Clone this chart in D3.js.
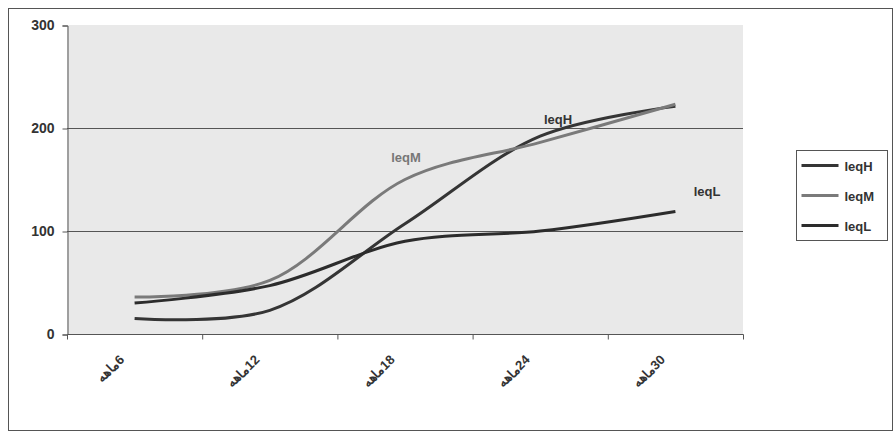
<!DOCTYPE html>
<html>
<head>
<meta charset="utf-8">
<script src="https://cdn.jsdelivr.net/npm/d3@7"></script>
<style>
  body { margin: 0; background: #fff; }
  text { font-family: "Liberation Sans", Arial, sans-serif; font-weight: bold; }
</style>
</head>
<body>
<svg width="894" height="438"></svg>
<script>
  const categories = ["6", "12", "18", "24", "30"];
  const catWord = "ماهه";
  const yTicks = [0, 100, 200, 300];
  const seriesNames = ["leqH", "leqM", "leqL"];
  const leqH = [15, 23, 107, 192, 221];
  const leqM = [36, 52, 150, 186, 223];
  const leqL = [30, 47, 90, 100, 119];
  const seriesValues = [leqH, leqM, leqL];
  const seriesColors = ["#353535", "#7a7a7a", "#2c2c2c"];

  const svg = d3.select("svg");

  // outer frame
  svg.append("rect").attr("x", 8.5).attr("y", 8.5).attr("width", 884).attr("height", 422)
    .attr("fill", "none").attr("stroke", "#555").attr("stroke-width", 1);

  const x = d3.scaleBand().domain(categories).range([67, 743]).paddingInner(0).paddingOuter(0);
  const y = d3.scaleLinear().domain([0, 300]).range([334, 25]);

  // plot background
  svg.append("rect").attr("x", 67).attr("y", y(300)).attr("width", 676).attr("height", y(0) - y(300))
    .attr("fill", "#e9e9e9");

  // gridlines
  svg.selectAll(".grid").data(yTicks.filter(d => d > 0 && d < 300)).enter().append("line")
    .attr("x1", 67).attr("x2", 743).attr("y1", d => y(d) + 0.5).attr("y2", d => y(d) + 0.5)
    .attr("stroke", "#555").attr("stroke-width", 1.2);

  // y axis
  const yAxis = svg.append("g").attr("transform", "translate(67.5,0.5)")
    .call(d3.axisLeft(y).tickValues(yTicks).tickSize(5).tickPadding(8));
  yAxis.select(".domain").attr("stroke", "#555");
  yAxis.selectAll(".tick line").attr("stroke", "#555");
  yAxis.selectAll("text").attr("font-size", 14).attr("fill", "#333");

  // x axis with ticks on category boundaries
  const xg = svg.append("g").attr("transform", `translate(0.5,${y(0) + 0.5})`);
  xg.append("line").attr("x1", 67).attr("x2", 743).attr("stroke", "#555").attr("stroke-width", 1.2);
  const bounds = categories.map(c => x(c)).concat([x(categories[categories.length - 1]) + x.bandwidth()]);
  xg.selectAll(".xt").data(bounds).enter().append("line")
    .attr("x1", d => d).attr("x2", d => d).attr("y1", 0).attr("y2", 5).attr("stroke", "#555");
  xg.selectAll(".xl").data(categories).enter().append("text")
    .attr("transform", d => `translate(${x(d) + x.bandwidth() / 2 - 10},${26}) rotate(-45)`)
    .attr("text-anchor", "end").attr("font-size", 13).attr("fill", "#333")
    .text(d => catWord + "\u200E" + d);

  // lines
  const cx = (i) => x(categories[i]) + x.bandwidth() / 2;
  const line = d3.line().x((d, i) => cx(i)).y(d => y(d)).curve(d3.curveCatmullRom.alpha(0.5));
  svg.selectAll(".series").data(seriesValues).enter().append("path")
    .attr("d", d => line(d)).attr("fill", "none")
    .attr("stroke", (d, i) => seriesColors[i]).attr("stroke-width", 3);

  // series labels
  const labelPos = [[558, 124], [406, 162], [707, 196]];
  svg.selectAll(".slab").data(seriesNames).enter().append("text")
    .attr("x", (d, i) => labelPos[i][0]).attr("y", (d, i) => labelPos[i][1])
    .attr("text-anchor", "middle").attr("font-size", 13)
    .attr("fill", (d, i) => i === 1 ? "#777" : "#333").text(d => d);

  // legend
  const lg = svg.append("g").attr("transform", "translate(796.5,150.5)");
  lg.append("rect").attr("width", 91).attr("height", 90).attr("fill", "#fff").attr("stroke", "#555");
  seriesNames.forEach((n, i) => {
    const yy = 15 + i * 30;
    lg.append("line").attr("x1", 5).attr("x2", 42).attr("y1", yy).attr("y2", yy)
      .attr("stroke", seriesColors[i]).attr("stroke-width", 3);
    lg.append("text").attr("x", 48).attr("y", yy + 5).attr("font-size", 13).attr("fill", "#333").text(n);
  });
</script>
</body>
</html>
